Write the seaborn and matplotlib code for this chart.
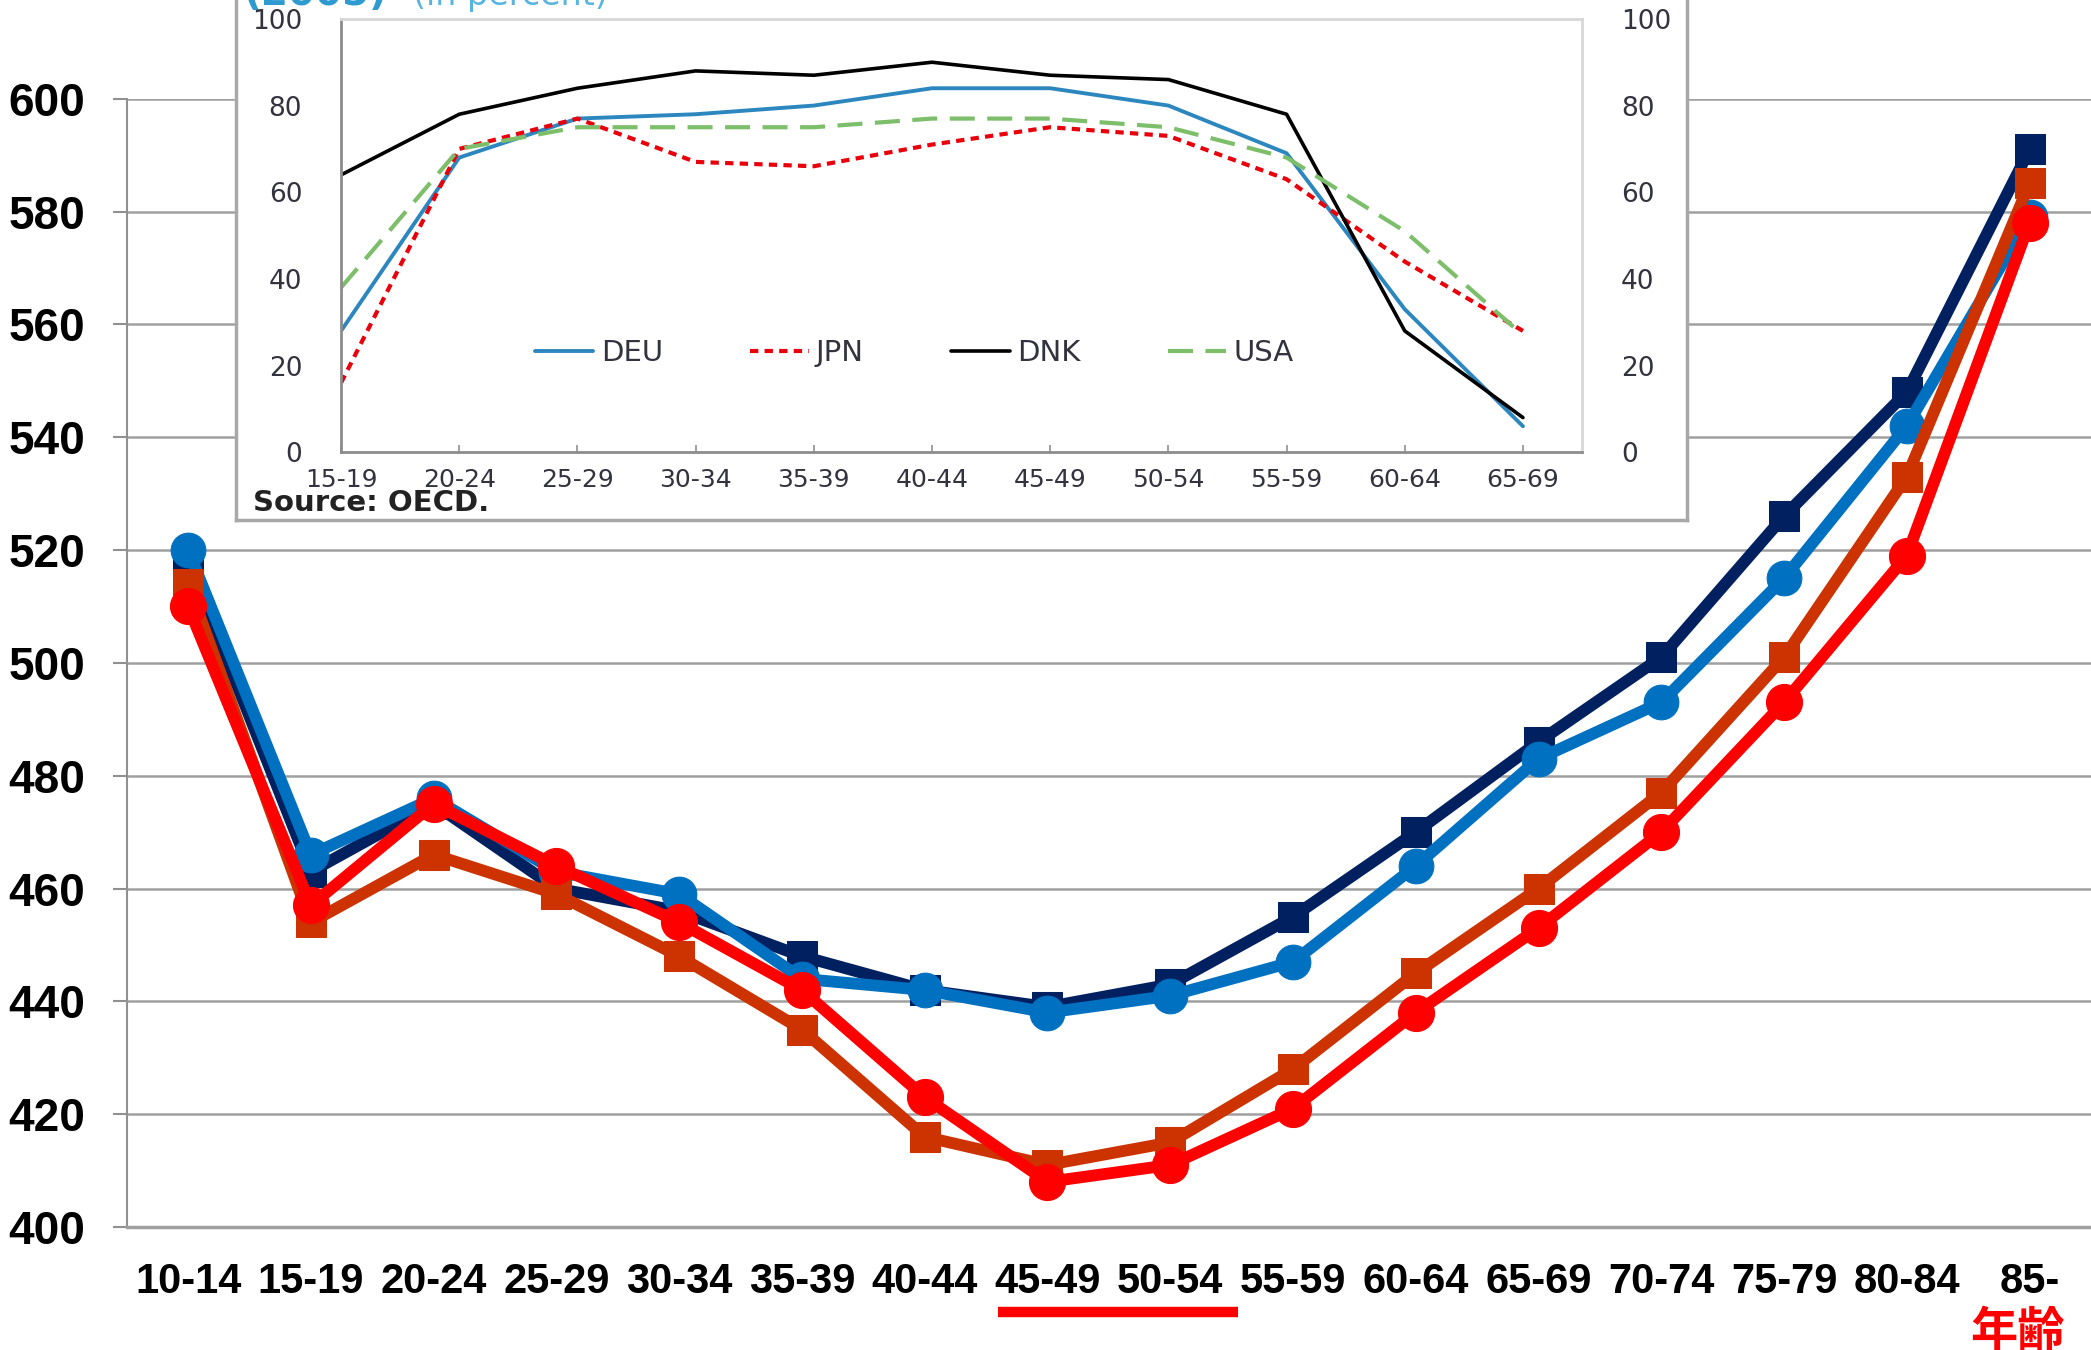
import numpy as np
import pandas as pd
import matplotlib
matplotlib.use('Agg')
import matplotlib.pyplot as plt
import matplotlib.transforms as mtransforms
import seaborn as sns

# main chart data
ages = ['10-14', '15-19', '20-24', '25-29', '30-34', '35-39', '40-44', '45-49',
        '50-54', '55-59', '60-64', '65-69', '70-74', '75-79', '80-84', '85-']
navy_sq = [518, 463, 475, 460, 456, 448, 442, 439, 443, 455, 470, 486, 501, 526, 548, 591]
blue_ci = [520, 466, 476, 463, 459, 444, 442, 438, 441, 447, 464, 483, 493, 515, 542, 579]
orange_sq = [514, 454, 466, 459, 448, 435, 416, 411, 415, 428, 445, 460, 477, 501, 533, 585]
red_ci = [510, 457, 475, 464, 454, 442, 423, 408, 411, 421, 438, 453, 470, 493, 519, 578]

# inset (OECD, percent)
inset_ages = ['15-19', '20-24', '25-29', '30-34', '35-39', '40-44', '45-49',
              '50-54', '55-59', '60-64', '65-69']
deu = [28, 68, 77, 78, 80, 84, 84, 80, 69, 33, 6]
jpn = [16, 70, 77, 67, 66, 71, 75, 73, 63, 44, 28]
dnk = [64, 78, 84, 88, 87, 90, 87, 86, 78, 28, 8]
usa = [38, 70, 75, 75, 75, 77, 77, 75, 68, 51, 27]

sns.set_theme(style='white')
plt.rcParams['font.family'] = ['Liberation Sans', 'DejaVu Sans']

fig = plt.figure(figsize=(20.91, 13.5), dpi=100)
ax = fig.add_axes([0.0606, 0.0911, 0.9394, 0.8358])

x = np.arange(len(ages))
series = [
    (navy_sq, '#002060', 's', 21),
    (blue_ci, '#0070C0', 'o', 25),
    (orange_sq, '#CC3300', 's', 21),
    (red_ci, '#FF0000', 'o', 26),
]
for i, (vals, col, mk, ms) in enumerate(series):
    df = pd.DataFrame({'x': x, 'y': vals})
    sns.lineplot(data=df, x='x', y='y', ax=ax, color=col, marker=mk, markersize=ms,
                 markeredgecolor=col, linewidth=8.5, sort=False, zorder=3 + i,
                 clip_on=False)

ax.set_xlim(-0.5, len(ages) - 0.5)
ax.set_ylim(400, 600)
ax.set_yticks(range(400, 601, 20))
ax.set_yticklabels([str(v) for v in range(400, 601, 20)], fontsize=33,
                   fontweight='bold', color='black')
ax.yaxis.grid(True, color='#A0A0A0', linewidth=1.8)
ax.xaxis.grid(False)
ax.set_xticks(np.arange(len(ages) - 1) + 0.5)
ax.set_xticklabels([])
ax.set_xticks(x, minor=True)
ax.set_xticklabels(ages, minor=True, fontsize=30, fontweight='bold', color='black')
ax.tick_params(axis='x', which='major', direction='out', length=9, width=1.5, color='#909090')
ax.tick_params(axis='x', which='minor', length=0, pad=25)
ax.tick_params(axis='y', direction='out', length=10, width=1.5, color='#909090', pad=20, left=True)
ax.set_xlabel('')
ax.set_ylabel('')
for s in ['top', 'right']:
    ax.spines[s].set_visible(False)
ax.spines['left'].set_color('#909090')
ax.spines['left'].set_linewidth(1.5)
ax.spines['bottom'].set_color('#A0A0A0')
ax.spines['bottom'].set_linewidth(2.5)

# red underline below 45-49 / 50-54
trans = mtransforms.blended_transform_factory(ax.transData, ax.transAxes)
ax.plot([6.6, 8.55], [-0.075, -0.075], color='#FF0000', linewidth=7.5,
        solid_capstyle='butt', transform=trans, clip_on=False)
ax.text(14.9, -0.093, '年齢', transform=trans, color='#FF0000', fontsize=34,
        fontweight='bold', ha='center', va='center',
        family=['Noto Sans CJK JP', 'DejaVu Sans'])

# inset box
box = fig.add_axes([0.1129, 0.615, 0.6939, 0.40])
box.set_facecolor('white')
box.set_xticks([])
box.set_yticks([])
for s in box.spines.values():
    s.set_color('#A8A8A8')
    s.set_linewidth(2.5)
box.set_zorder(10)
box.text(0.1167, 0.9965, '(2005)', transform=fig.transFigure, color='#2E9AD0',
         fontsize=28, fontweight='bold', va='baseline', family='DejaVu Sans')
box.text(0.1975, 0.9965, '(in percent)', transform=fig.transFigure, color='#5AB4E0',
         fontsize=24, va='baseline', family='DejaVu Sans')
box.text(0.012, 0.006, 'Source: OECD.', transform=box.transAxes, color='#222222',
         fontsize=21, fontweight='bold', va='bottom', family='DejaVu Sans')

ins = fig.add_axes([0.1631, 0.665, 0.5935, 0.321])
ins.set_zorder(11)
ins.set_facecolor('white')
xi = np.arange(len(inset_ages))
idf = pd.DataFrame({'x': np.tile(xi, 4),
                    'y': deu + jpn + dnk + usa,
                    'c': ['DEU'] * 11 + ['JPN'] * 11 + ['DNK'] * 11 + ['USA'] * 11})
styles = {'DEU': ('#2D87BF', (None, None), 2.8),
          'JPN': ('#E8000B', (2, 1.5), 3.0),
          'DNK': ('#000000', (None, None), 2.6),
          'USA': ('#7DBE6A', (6, 3), 3.0)}
for name in ['DEU', 'JPN', 'DNK', 'USA']:
    col, dash, lw = styles[name]
    sub = idf[idf['c'] == name]
    line = sns.lineplot(data=sub, x='x', y='y', ax=ins, color=col, linewidth=lw,
                        label=name, sort=False).lines[-1]
    if dash[0] is not None:
        line.set_dashes(dash)

ins.set_xlim(0, 10.5)
ins.set_ylim(0, 100)
ins.set_xticks(xi)
ins.set_xticklabels(inset_ages, fontsize=18, color='#333340', family='DejaVu Sans')
ins.set_yticks(range(0, 101, 20))
ins.set_yticklabels([str(v) for v in range(0, 101, 20)], fontsize=19, color='#333340',
                    family='DejaVu Sans')
ins.tick_params(axis='x', direction='in', length=5, width=1.2, color='#909090', pad=11,
                bottom=True)
ins.tick_params(axis='y', length=0, pad=28, labelleft=True, labelright=True)
ins.set_xlabel('')
ins.set_ylabel('')
ins.spines['left'].set_color('#8C8C8C')
ins.spines['bottom'].set_color('#8C8C8C')
ins.spines['left'].set_linewidth(2)
ins.spines['bottom'].set_linewidth(2)
ins.spines['top'].set_color('#D8D8D8')
ins.spines['right'].set_color('#D8D8D8')
ins.spines['top'].set_linewidth(2)
ins.spines['right'].set_linewidth(2)
leg = ins.legend(loc='center', bbox_to_anchor=(0.462, 0.228), ncol=4, frameon=False,
                 handlelength=2.0, columnspacing=3.0, handletextpad=0.25,
                 prop={'family': 'DejaVu Sans', 'size': 21})
for t in leg.get_texts():
    t.set_color('#333340')

fig.savefig('out.png', dpi=100)
